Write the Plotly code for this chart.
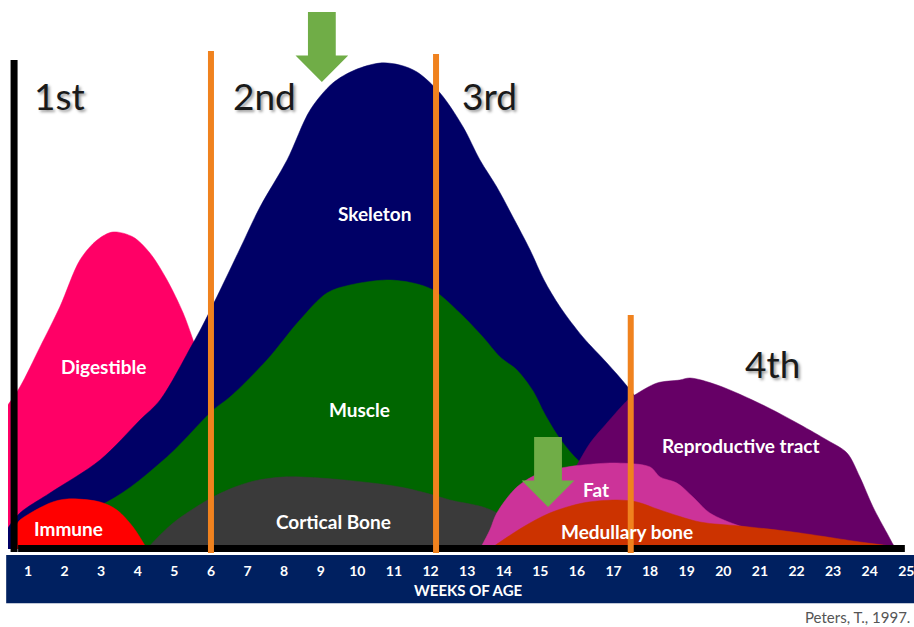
import plotly.graph_objects as go

# ---------------- data (weeks of age vs. relative growth intensity) ----------------
weeks = list(range(1, 26))
tick_labels = [str(w) for w in weeks]

digestible_x = [0.45, 0.78, 1.33, 1.87, 2.42, 2.89, 3.32, 3.87, 4.33, 4.80, 5.24, 5.51, 5.97, 6.38, 6.79]
digestible_y = [144, 162, 202, 242, 289, 309, 317, 312, 296, 269, 236, 209, 159, 99, 0]

skeleton_x = [0.45, 0.78, 1.60, 2.97, 4.06, 4.61, 5.51, 5.75, 6.16, 6.79, 7.34, 8.08, 8.71, 9.33,
              9.93, 10.62, 11.16, 11.63, 12.26, 12.89, 13.35, 13.81, 14.25, 14.72, 15.10, 15.54,
              16.16, 16.82, 17.39, 18.27, 19.36, 20.18]
skeleton_y = [21, 36, 56, 89, 129, 149, 206, 222, 252, 300, 342, 389, 439, 466,
              479, 486, 484, 477, 456, 422, 389, 362, 332, 299, 269, 242,
              212, 186, 162, 119, 59, 0]

muscle_x = [0.78, 3.16, 4.80, 6.06, 6.52, 7.53, 8.43, 9.17, 9.80, 10.81, 11.52, 12.07, 12.80,
            13.43, 13.90, 14.36, 14.80, 15.12, 15.54, 16.08, 17.18, 18.27, 19.09]
muscle_y = [20, 47, 92, 139, 152, 189, 229, 256, 264, 269, 266, 259, 236,
            212, 192, 179, 158, 135, 110, 87, 59, 19, 0]

immune_x = [0.70, 0.78, 1.60, 2.07, 2.97, 3.43, 3.87, 4.25]
immune_y = [25, 29, 46, 50, 47, 39, 22, 0]

cortical_x = [4.25, 4.61, 5.07, 6.16, 7.07, 7.97, 9.33, 11.16, 12.07, 12.53, 13.43, 13.81, 14.45, 14.99]
cortical_y = [0, 14, 29, 54, 67, 72, 70, 62, 54, 49, 42, 36, 19, 0]

repro_x = [14.44, 15.26, 16.08, 16.36, 16.82, 17.39, 17.58, 18.19, 18.81, 19.09, 19.83, 21.19,
           22.83, 23.38, 23.73, 24.09, 24.47, 24.69, 24.77]
repro_y = [0, 39, 89, 106, 126, 149, 154, 166, 169, 171, 164, 142,
           109, 96, 72, 42, 16, 2, 0]

fat_x = [13.35, 13.62, 13.81, 14.36, 14.99, 15.73, 16.16, 17.09, 18.00, 18.27, 18.73, 19.17,
         19.63, 20.45, 21.00, 21.30]
fat_y = [0, 19, 36, 62, 76, 82, 84, 86, 82, 72, 66, 52, 36, 23, 18, 0]

medullary_x = [13.62, 14.53, 15.26, 16.16, 17.09, 17.64, 18.27, 19.36, 20.45, 21.90, 23.73, 24.55, 24.96]
medullary_y = [0, 22, 36, 46, 49, 47, 39, 27, 23, 17, 7, 3, 0]

series = [
    ("Digestible", digestible_x, digestible_y, "#FF0066", 3.05, 183),
    ("Skeleton", skeleton_x, skeleton_y, "#000066", 10.47, 336),
    ("Muscle", muscle_x, muscle_y, "#006600", 10.07, 140),
    ("Immune", immune_x, immune_y, "#FF0000", 2.1, 21),
    ("Cortical Bone", cortical_x, cortical_y, "#3A3A3A", 9.35, 28),
    ("Reproductive tract", repro_x, repro_y, "#660066", 20.48, 104),
    ("Fat", fat_x, fat_y, "#CC3399", 16.52, 60),
    ("Medullary bone", medullary_x, medullary_y, "#CC3300", 17.37, 18),
]

phase_names = ["1st", "2nd", "3rd", "4th"]
phase_x = [1.87, 7.45, 13.62, 21.35]
phase_y = [454, 454, 454, 186]

divider_weeks = [6.0, 12.15, 17.47]
divider_tops = [498, 495, 234]

arrow_weeks = [9.03, 15.21]
arrow_tip_y = [467, 42]
arrow_top_y = [537, 112]

# ---------------- figure ----------------
fig = go.Figure()
label_font = "Lato, 'Open Sans', sans-serif"

for name, xs, ys, col, lx, ly in series:
    fig.add_trace(go.Scatter(
        x=xs, y=ys, mode="lines", name=name, fill="tozeroy", fillcolor=col,
        line=dict(color=col, width=0.5, shape="spline", smoothing=0.9),
        hoverinfo="skip", showlegend=False))
    fig.add_annotation(x=lx, y=ly, text="<b>%s</b>" % name, showarrow=False,
                       font=dict(family=label_font, size=19, color="#FFFFFF"))

shapes = []
# navy band under the axis
shapes.append(dict(type="rect", xref="paper", yref="paper", x0=-0.002, x1=1.0, y0=-0.087, y1=0,
                   fillcolor="#002060", line=dict(width=0), layer="below"))
# black baseline and left bar
shapes.append(dict(type="line", xref="x", yref="y", x0=0.73, x1=24.96, y0=0.5, y1=0.5,
                   line=dict(color="#000000", width=7)))
shapes.append(dict(type="line", xref="x", yref="y", x0=0.62, x1=0.62, y0=-3, y1=489,
                   line=dict(color="#000000", width=7)))
# orange phase dividers
for xw, top in zip(divider_weeks, divider_tops):
    shapes.append(dict(type="line", xref="x", yref="y", x0=xw, x1=xw, y0=-4, y1=top,
                       line=dict(color="#F0821E", width=6)))
# green arrows
shaft_hw, head_hw = 0.38, 0.72
for xw, tip, top in zip(arrow_weeks, arrow_tip_y, arrow_top_y):
    head_start = tip + (top - tip) * 0.38
    path = ("M {a},{top} L {b},{top} L {b},{hs} L {c},{hs} L {x},{tip} L {d},{hs} L {e},{hs} L {e},{top} Z"
            .format(a=xw - shaft_hw, b=xw + shaft_hw, c=xw + head_hw, d=xw - head_hw,
                    e=xw - shaft_hw, x=xw, top=top, hs=head_start, tip=tip))
    shapes.append(dict(type="path", xref="x", yref="y", path=path,
                       fillcolor="#70AD47", line=dict(width=0)))

fig.update_layout(shapes=shapes)

for name, xw, yv in zip(phase_names, phase_x, phase_y):
    fig.add_annotation(x=xw, y=yv, text=name, showarrow=False,
                       font=dict(family=label_font, size=37, color="#1A1A1A",
                                 shadow="2px 2px 3px #9a9a9a"))

fig.add_annotation(xref="paper", yref="paper", x=0.508, y=-0.063, yanchor="middle",
                   text="<b>WEEKS OF AGE</b>",
                   showarrow=False, font=dict(family=label_font, size=15, color="#FFFFFF"))
fig.add_annotation(xref="paper", yref="paper", x=0.998, y=-0.112, xanchor="right",
                   yanchor="middle", text="Peters, T., 1997.", showarrow=False,
                   font=dict(family=label_font, size=15, color="#555555"))

fig.update_xaxes(range=[0.454, 25.21], tickmode="array", tickvals=weeks, ticktext=tick_labels,
                 showgrid=False, zeroline=False, showline=False, ticks="outside", ticklen=3,
                 tickcolor="#002060", ticklabeloverflow="allow",
                 tickfont=dict(family=label_font, size=14, color="#FFFFFF", weight="bold"))
fig.update_yaxes(range=[-6, 549], visible=False, showgrid=False, zeroline=False)

fig.update_layout(width=914, height=627, margin=dict(l=8, r=0, t=0, b=72),
                  paper_bgcolor="#FFFFFF", plot_bgcolor="#FFFFFF", showlegend=False)

fig.write_html("out.html", config={"displayModeBar": False},
               post_script="document.body.style.margin='0';document.body.style.overflow='hidden';")
